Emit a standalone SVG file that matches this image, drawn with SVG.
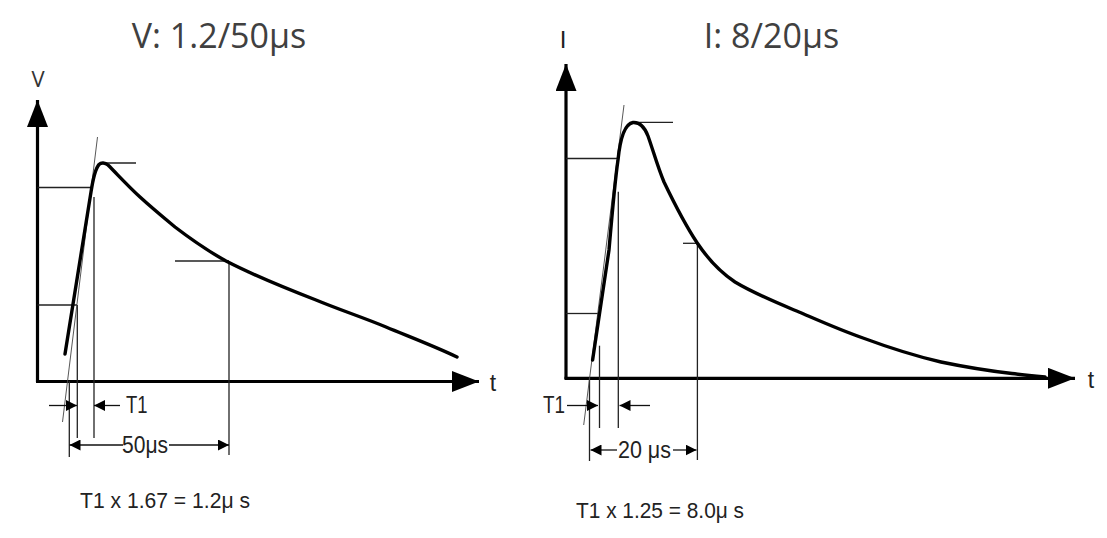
<svg xmlns="http://www.w3.org/2000/svg" width="1107" height="538" viewBox="0 0 1107 538">
<style>
.title{font-family:"Open Sans","Noto Sans",sans-serif;font-size:34px;fill:#404040}
.axlab{font-family:"Open Sans","Noto Sans",sans-serif;fill:#333}
.lab{font-family:"Liberation Sans",Arial,sans-serif;font-size:23px;fill:#222}
.foot{font-family:"Liberation Sans",Arial,sans-serif;font-size:22px;fill:#222}
.axis{stroke:#000;stroke-width:3.2;fill:none}
.curve{stroke:#000;stroke-width:3.4;fill:none;stroke-linejoin:round;stroke-linecap:round}
.guide{stroke:#222;stroke-width:1.3;fill:none}
.tan{stroke:#444;stroke-width:0.9;fill:none}
.dim{stroke:#111;stroke-width:1.3;fill:none}
</style>
<defs>
<marker id="axArrow" markerUnits="userSpaceOnUse" markerWidth="28" markerHeight="22" refX="27" refY="10.5" orient="auto">
<path d="M0,0 L27,10.5 L0,21 z" fill="#000"/>
</marker>
<marker id="dimArrow" markerUnits="userSpaceOnUse" markerWidth="11" markerHeight="11" refX="11" refY="5.5" orient="auto">
<path d="M0,0 L11,5.5 L0,11 z" fill="#000"/>
</marker>
</defs>

<g id="voltage-chart">
<text class="title" x="219" y="48" text-anchor="middle">V: 1.2/50μs</text>
<text class="axlab" x="38" y="87" font-size="22" text-anchor="middle">V</text>
<g id="v-axes">
<line class="axis" x1="37.5" y1="382" x2="37.5" y2="100" marker-end="url(#axArrow)"/>
<line class="axis" x1="36" y1="381.5" x2="479" y2="381.5" marker-end="url(#axArrow)"/>
<text class="lab" x="493" y="391" font-size="22" text-anchor="middle">t</text>
</g>
<g id="v-guides">
<line class="guide" x1="37.5" y1="187.5" x2="92" y2="187.5"/>
<line class="guide" x1="37.5" y1="305" x2="77" y2="305"/>
<line class="guide" x1="100" y1="163" x2="136" y2="163"/>
<line class="guide" x1="175" y1="261" x2="229" y2="261"/>
<line class="guide" x1="229" y1="261" x2="229" y2="455"/>
<line class="guide" x1="94" y1="197" x2="94" y2="438"/>
<line class="guide" x1="77.3" y1="305" x2="77.3" y2="438"/>
<line class="guide" x1="69.3" y1="381" x2="69.3" y2="457"/>
<line class="tan" x1="62.5" y1="422" x2="97.5" y2="137"/>
</g>
<path id="v-curve" class="curve" d="M65,354 L91,192 C93,179 95,169 99,164.5 C101,162.5 105,162.5 108,165 C118,175 128,186 140,197 C152,208 163,217 175,227 C192,240 208,251 226,261 C255,276 285,288 316,300 C340,310 362,317 386,327 C410,337 434,346 457,357"/>
<g id="v-dims">
<line class="dim" x1="49" y1="405.5" x2="77" y2="405.5" marker-end="url(#dimArrow)"/>
<line class="dim" x1="120" y1="405.5" x2="94" y2="405.5" marker-end="url(#dimArrow)"/>
<text class="lab" x="126" y="413" textLength="21.5" lengthAdjust="spacingAndGlyphs">T1</text>
<line class="dim" x1="123" y1="445" x2="69.5" y2="445" marker-end="url(#dimArrow)"/>
<line class="dim" x1="169" y1="445" x2="229" y2="445" marker-end="url(#dimArrow)"/>
<text class="lab" x="145" y="453" text-anchor="middle" textLength="46" lengthAdjust="spacingAndGlyphs">50μs</text>
</g>
<text class="foot" x="80" y="507.5" textLength="170" lengthAdjust="spacingAndGlyphs">T1 x 1.67 = 1.2μ s</text>
</g>

<g id="current-chart">
<text class="title" x="771.5" y="48" text-anchor="middle">I: 8/20μs</text>
<text x="563" y="47.5" font-family="Liberation Sans, Arial, sans-serif" font-size="24" fill="#222" text-anchor="middle">I</text>
<g id="i-axes">
<line class="axis" x1="566" y1="379" x2="566" y2="64" marker-end="url(#axArrow)"/>
<line class="axis" x1="564.5" y1="378.3" x2="1075" y2="378.3" marker-end="url(#axArrow)"/>
<text class="lab" x="1091" y="388" font-size="22" text-anchor="middle">t</text>
</g>
<g id="i-guides">
<line class="guide" x1="566" y1="158.5" x2="618" y2="158.5"/>
<line class="guide" x1="566" y1="313.5" x2="598" y2="313.5"/>
<line class="guide" x1="632" y1="122.3" x2="673" y2="122.3"/>
<line class="guide" x1="683" y1="243.3" x2="697.4" y2="243.3"/>
<line class="guide" x1="697.4" y1="243.3" x2="697.4" y2="460"/>
<line class="guide" x1="618.3" y1="191.7" x2="618.3" y2="428"/>
<line class="guide" x1="599.5" y1="345.7" x2="599.5" y2="428"/>
<line class="guide" x1="589.5" y1="378" x2="589.5" y2="461"/>
<line class="tan" x1="583.7" y1="425" x2="624" y2="105"/>
</g>
<path id="i-curve" class="curve" d="M592.6,360 L609,250 C612,215 615,180 618,160 C620,140 624,124 633,122.5 C640,122 645,128 648,136 C653,150 658,168 664,182 C675,205 686,226 697.4,243.3 C708,259 720,272 735,282 C755,294 775,302 799,312 C820,321 840,330 863,338 C890,348 915,356 941,362 C965,367 990,371 1012,373.5 C1025,375 1035,376 1045,377"/>
<g id="i-dims">
<text class="lab" x="565" y="413" text-anchor="end" textLength="22" lengthAdjust="spacingAndGlyphs">T1</text>
<line class="dim" x1="567" y1="405.5" x2="598" y2="405.5" marker-end="url(#dimArrow)"/>
<line class="dim" x1="650" y1="405.5" x2="619.5" y2="405.5" marker-end="url(#dimArrow)"/>
<line class="dim" x1="617" y1="450" x2="590.5" y2="450" marker-end="url(#dimArrow)"/>
<line class="dim" x1="673" y1="450" x2="696.5" y2="450" marker-end="url(#dimArrow)"/>
<text class="lab" x="644.5" y="458" text-anchor="middle" textLength="53" lengthAdjust="spacingAndGlyphs">20 μs</text>
</g>
<text class="foot" x="576" y="518" textLength="168" lengthAdjust="spacingAndGlyphs">T1 x 1.25 = 8.0μ s</text>
</g>
</svg>
